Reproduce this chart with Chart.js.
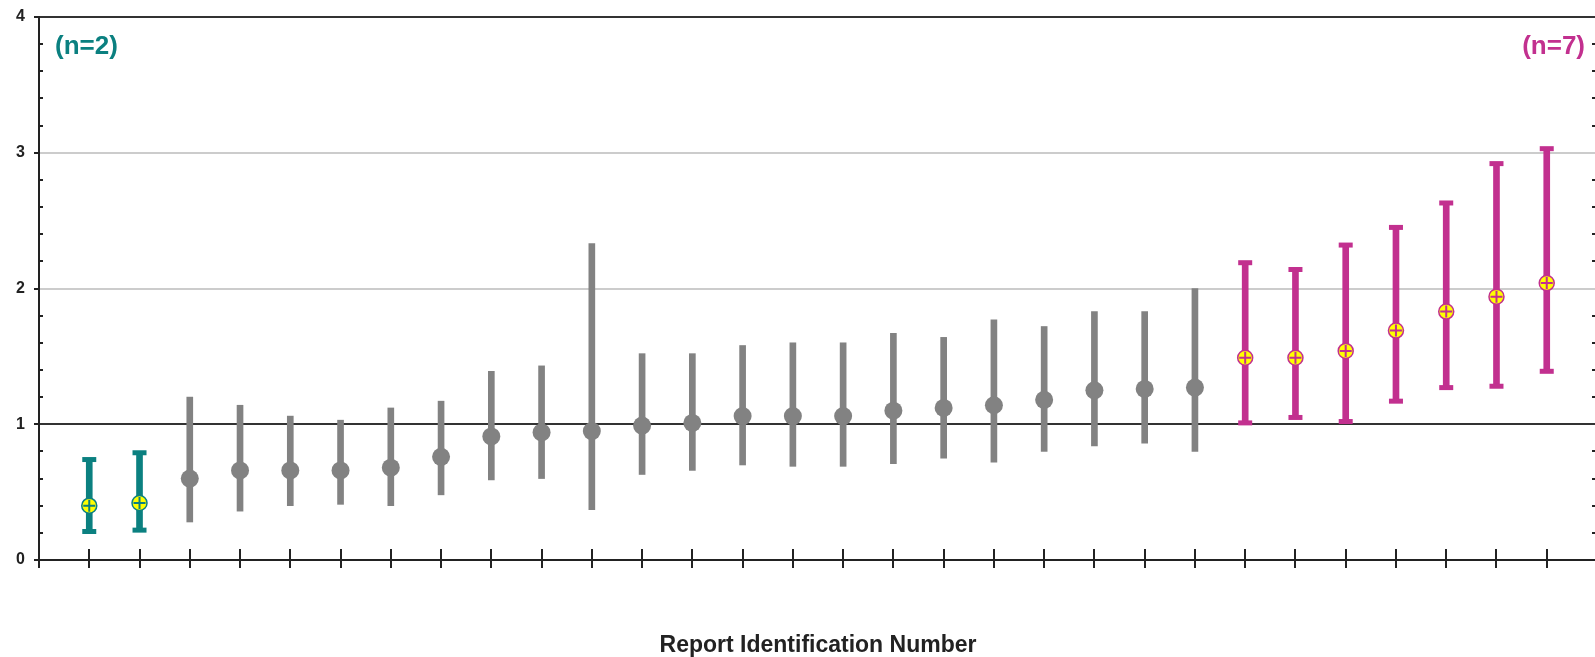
<!DOCTYPE html>
<html>
<head>
<meta charset="utf-8">
<script src="https://cdn.jsdelivr.net/npm/chart.js@4.4.1/dist/chart.umd.min.js"></script>
<style>
  html, body { margin: 0; padding: 0; background: #fff; overflow: hidden; }
  #myChart { display: block; width: 1600px; height: 657px; }
</style>
</head>
<body>
<canvas id="myChart" width="1600" height="657"></canvas>
<script>
// report positions along the x axis (no labels shown in the original)
const reports = [1, 2, 3, 4, 5, 6, 7, 8, 9, 10, 11, 12, 13, 14, 15,
  16, 17, 18, 19, 20, 21, 22, 23, 24, 25, 26, 27, 28, 29, 30];
const means = [0.40, 0.42, 0.60, 0.66, 0.66, 0.66, 0.68, 0.76, 0.91, 0.94,
  0.95, 0.99, 1.01, 1.06, 1.06, 1.06, 1.10, 1.12, 1.14, 1.18,
  1.25, 1.26, 1.27, 1.49, 1.49, 1.54, 1.69, 1.83, 1.94, 2.04];
const lows = [0.21, 0.22, 0.28, 0.36, 0.40, 0.41, 0.40, 0.48, 0.59, 0.60,
  0.37, 0.63, 0.66, 0.70, 0.69, 0.69, 0.71, 0.75, 0.72, 0.80,
  0.84, 0.86, 0.80, 1.01, 1.05, 1.02, 1.17, 1.27, 1.28, 1.39];
const highs = [0.74, 0.79, 1.20, 1.14, 1.06, 1.03, 1.12, 1.17, 1.39, 1.43,
  2.33, 1.52, 1.52, 1.58, 1.60, 1.60, 1.67, 1.64, 1.77, 1.72,
  1.83, 1.83, 2.00, 2.19, 2.14, 2.32, 2.45, 2.63, 2.92, 3.03];
const lowCount = 2;   // teal group at the left
const highCount = 7;  // magenta group at the right
const yTicks = [0, 1, 2, 3, 4];

const teal = '#0b8080';
const magenta = '#c2308f';
const grey = '#828282';

function pick(from, to) {
  return reports.slice(from, to).map((r, i) => ({ i: from + i, x: r }));
}
const lowGroup = pick(0, lowCount);
const midGroup = pick(lowCount, reports.length - highCount);
const highGroup = pick(reports.length - highCount, reports.length);

const rangeOf = g => g.map(p => ({ x: p.x, y: [lows[p.i], highs[p.i]] }));
const meanOf = g => g.map(p => ({ x: p.x, y: means[p.i] }));
const capsOf = g => g.flatMap(p => [{ x: p.x, y: lows[p.i] }, { x: p.x, y: highs[p.i] }]);

function barSet(g, color, w) {
  return { type: 'bar', data: rangeOf(g), backgroundColor: color, borderWidth: 0,
    barThickness: w, grouped: false, order: 4 };
}
function capSet(g, color) {
  return { type: 'scatter', data: capsOf(g), pointStyle: 'line', pointRadius: 7,
    borderColor: color, borderWidth: 5, order: 3 };
}
function dotSet(g, color) {
  return { type: 'scatter', data: meanOf(g), pointStyle: 'circle', pointRadius: 7.5,
    backgroundColor: '#ffff00', borderColor: color, borderWidth: 1.5, order: 2 };
}
function crossSet(g, color) {
  return { type: 'scatter', data: meanOf(g), pointStyle: 'cross', pointRadius: 6,
    borderColor: color, borderWidth: 2, order: 1 };
}

const isInt = v => Math.abs(v - Math.round(v)) < 1e-6;

const axisMarks = {
  id: 'axisMarks',
  afterDraw(chart) {
    const { ctx, chartArea, scales: { x, y } } = chart;
    const y0 = y.getPixelForValue(0);
    ctx.save();
    ctx.strokeStyle = '#222';
    ctx.lineWidth = 2;
    ctx.beginPath();
    ctx.moveTo(chartArea.left, y0);
    ctx.lineTo(chartArea.left, y0 + 8);
    reports.forEach(r => {
      const px = Math.round(x.getPixelForValue(r));
      ctx.moveTo(px, y0 - 11);
      ctx.lineTo(px, y0 + 8);
    });
    y.ticks.forEach(t => {
      const py = Math.round(y.getPixelForValue(t.value));
      if (isInt(t.value)) {
        ctx.moveTo(chartArea.left - 5, py);
        ctx.lineTo(chartArea.left, py);
      } else {
        ctx.moveTo(chartArea.left, py);
        ctx.lineTo(chartArea.left + 4, py);
        ctx.moveTo(chartArea.right - 5, py);
        ctx.lineTo(chartArea.right, py);
      }
    });
    ctx.stroke();

    ctx.font = 'bold 26px "Liberation Sans", Arial, sans-serif';
    ctx.textBaseline = 'middle';
    ctx.fillStyle = teal;
    ctx.textAlign = 'left';
    ctx.fillText('(n=' + lowCount + ')', chartArea.left + 16, chartArea.top + 30);
    ctx.fillStyle = magenta;
    ctx.textAlign = 'right';
    ctx.fillText('(n=' + highCount + ')', chartArea.right - 12, chartArea.top + 30);
    ctx.restore();
  }
};

const config = {
  type: 'scatter',
  data: {
    datasets: [
      barSet(lowGroup, teal, 6),
      barSet(midGroup, grey, 6),
      barSet(highGroup, magenta, 6),
      capSet(lowGroup, teal),
      capSet(highGroup, magenta),
      { type: 'scatter', data: meanOf(midGroup), pointStyle: 'circle', pointRadius: 9,
        backgroundColor: grey, borderWidth: 0, order: 2 },
      dotSet(lowGroup, teal),
      dotSet(highGroup, magenta),
      crossSet(lowGroup, teal),
      crossSet(highGroup, magenta)
    ]
  },
  options: {
    responsive: false,
    maintainAspectRatio: false,
    animation: false,
    layout: { autoPadding: false, padding: { top: 17, right: 3, left: 0, bottom: 0 } },
    plugins: { legend: { display: false }, tooltip: { enabled: false } },
    scales: {
      x: {
        type: 'linear',
        min: 0,
        max: 31,
        offset: false,
        grid: { display: false, drawTicks: false },
        border: { display: true, color: '#222', width: 2 },
        ticks: { display: false, stepSize: 1 },
        title: {
          display: true,
          text: 'Report Identification Number',
          color: '#222',
          font: { family: '"Liberation Sans", Arial, sans-serif', size: 23, weight: 'bold', lineHeight: 1 },
          padding: { top: 74, bottom: 0 }
        },
        afterFit(scale) { scale.height = 97; }
      },
      y: {
        min: 0,
        max: 4,
        ticks: {
          stepSize: 0.2,
          padding: 0,
          color: '#222',
          font: { family: '"Liberation Sans", Arial, sans-serif', size: 16, weight: 'bold' },
          callback: v => (yTicks.includes(Math.round(v)) && isInt(v)) ? String(Math.round(v)) : ''
        },
        grid: {
          drawTicks: true,
          tickLength: 14,
          tickColor: 'rgba(0,0,0,0)',
          lineWidth: 2,
          color: c => {
            const v = c.tick.value;
            if (!isInt(v)) return 'rgba(0,0,0,0)';
            if (Math.round(v) === 1 || Math.round(v) === 4) return '#333';
            if (Math.round(v) === 0) return 'rgba(0,0,0,0)';
            return '#cccccc';
          }
        },
        border: { display: true, color: '#222', width: 2 },
        afterFit(scale) { scale.width = 39; }
      }
    }
  },
  plugins: [axisMarks]
};

const myChart = new Chart(document.getElementById('myChart'), config);
</script>
</body>
</html>
